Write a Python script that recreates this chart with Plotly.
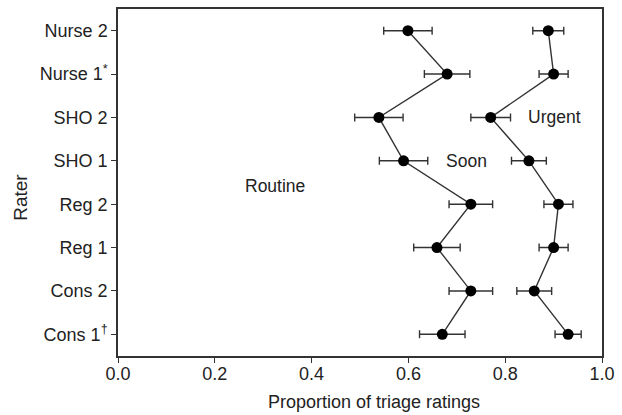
import plotly.graph_objects as go

raters = ["Cons 1<sup>†</sup>", "Cons 2", "Reg 1", "Reg 2", "SHO 1", "SHO 2", "Nurse 1<sup>*</sup>", "Nurse 2"]
soon = [0.670, 0.729, 0.659, 0.729, 0.590, 0.539, 0.680, 0.599]
soon_err = [0.047, 0.045, 0.048, 0.045, 0.050, 0.050, 0.047, 0.050]
urgent = [0.930, 0.860, 0.900, 0.910, 0.849, 0.770, 0.900, 0.889]
urgent_err = [0.027, 0.036, 0.030, 0.030, 0.036, 0.041, 0.030, 0.032]
x_ticks = [0.0, 0.2, 0.4, 0.6, 0.8, 1.0]
region_labels = ["Routine", "Soon", "Urgent"]
region_x = [0.324, 0.719, 0.901]
region_y = [3.41, 4.0, 5.0]

FONT = "Liberation Sans, Arial, Helvetica, sans-serif"
INK = "#222222"
LINE = "#333333"
FS = 18

fig = go.Figure()
for vals, errs in [(soon, soon_err), (urgent, urgent_err)]:
    fig.add_trace(go.Scatter(
        x=vals, y=list(range(len(raters))),
        mode="lines+markers",
        line=dict(color=LINE, width=1.4),
        marker=dict(color="black", size=11),
        error_x=dict(type="data", array=errs, visible=True, color=LINE, thickness=1.4, width=4),
        showlegend=False,
    ))

for t, x, y in zip(region_labels, region_x, region_y):
    fig.add_annotation(x=x, y=y, text=t, showarrow=False, xref="x", yref="y",
                       font=dict(family=FONT, size=FS - 0.5, color=INK))

# axis titles placed as annotations for precise positioning
fig.add_annotation(text="Proportion of triage ratings", xref="paper", yref="paper",
                   x=0.528, y=0, yshift=-46, xanchor="center", yanchor="middle",
                   showarrow=False, font=dict(family=FONT, size=FS, color=INK))
fig.add_annotation(text="Rater", xref="paper", yref="paper",
                   x=0, xshift=-97, y=0.456, textangle=-90,
                   xanchor="center", yanchor="middle",
                   showarrow=False, font=dict(family=FONT, size=FS + 1, color=INK))

fig.update_layout(
    template="none",
    width=622, height=415,
    margin=dict(l=118, r=20, t=9, b=59, autoexpand=False),
    paper_bgcolor="white", plot_bgcolor="white",
    font=dict(family=FONT, size=FS, color=INK),
)
fig.update_xaxes(
    range=[0, 1], tickvals=x_ticks, ticktext=[f"{v:.1f}" for v in x_ticks],
    showgrid=False, zeroline=False, automargin=False,
    showline=True, linecolor=LINE, linewidth=1.5, mirror=True,
    ticks="outside", ticklen=5, tickcolor=LINE, tickwidth=1.3,
    ticklabelstandoff=-4,
)
fig.update_yaxes(
    range=[-0.5, 7.5], tickvals=list(range(len(raters))), ticktext=raters,
    showgrid=False, zeroline=False, automargin=False,
    showline=True, linecolor=LINE, linewidth=1.5, mirror=True,
    ticks="outside", ticklen=5, tickcolor=LINE, tickwidth=1.3,
)

fig.write_html("out.html", config={"displayModeBar": False},
               post_script="document.body.style.margin='0';document.body.style.overflow='hidden';")
